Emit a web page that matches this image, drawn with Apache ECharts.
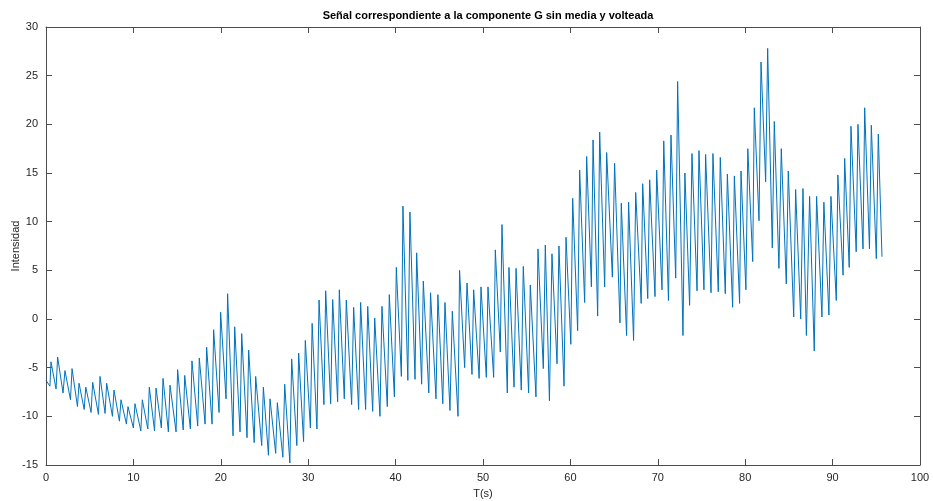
<!DOCTYPE html>
<html>
<head>
<meta charset="utf-8">
<script src="https://cdn.jsdelivr.net/npm/echarts@6/dist/echarts.min.js"></script>
<style>
html,body{margin:0;padding:0;background:#fff;}
#chart{width:933px;height:501px;}
</style>
</head>
<body>
<div id="chart"></div>
<script>
// Time stamps (s) of each turning point of the signal (troughs and peaks, in order)
const times = [
  0, 0.45, 0.57, 1.15, 1.33, 1.95, 2.17, 2.8, 2.98, 3.6, 3.78, 4.37, 4.55, 5.16, 5.34, 6.0, 6.18, 6.76, 6.94, 7.6, 7.78, 8.4, 8.58, 9.2, 9.38, 10.0, 10.18,
  10.85, 11.02, 11.65, 11.82, 12.42, 12.59, 13.2, 13.39, 14.0, 14.19, 14.88, 15.06, 15.7, 15.87, 16.52, 16.7, 17.36, 17.54, 18.2, 18.38, 19.0, 19.18, 19.8, 19.98,
  20.6, 20.78, 21.4, 21.59, 22.2, 22.39, 23.0, 23.19, 23.82, 23.99, 24.68, 24.87, 25.45, 25.63, 26.28, 26.47, 27.1, 27.31, 27.9, 28.11, 28.7, 28.91, 29.47, 29.67, 30.25, 30.45,
  31.0, 31.24, 31.8, 32.0, 32.57, 32.8, 33.37, 33.56, 34.13, 34.36, 34.97, 35.2, 35.77, 36.0, 36.57, 36.81, 37.38, 37.61, 38.21, 38.44, 39.05, 39.28, 39.86, 40.08,
  40.66, 40.84, 41.4, 41.64, 42.22, 42.41, 42.98, 43.17, 43.8, 44.0, 44.62, 44.84, 45.4, 45.65, 46.22, 46.49, 47.14, 47.32, 47.9, 48.17, 48.74, 48.93, 49.56, 49.77,
  50.38, 50.57, 51.22, 51.41, 51.98, 52.17, 52.78, 52.97, 53.55, 53.78, 54.38, 54.61, 55.22, 55.41, 56.06, 56.29, 56.9, 57.13, 57.6, 57.89, 58.47, 58.69, 59.27, 59.5,
  60.05, 60.26, 60.83, 61.06, 61.63, 61.86, 62.4, 62.59, 63.12, 63.35, 63.92, 64.15, 64.8, 65.06, 65.67, 65.82, 66.43, 66.66, 67.23, 67.47, 68.1, 68.27, 68.85, 69.07, 69.68, 69.87,
  70.48, 70.68, 71.22, 71.51, 72.05, 72.27, 72.88, 73.1, 73.64, 73.91, 74.49, 74.71, 75.28, 75.47, 76.09, 76.31, 76.92, 77.15, 77.72, 77.96, 78.56, 78.76, 79.36, 79.52,
  80.08, 80.3, 80.86, 81.04, 81.58, 81.81, 82.34, 82.57, 83.1, 83.33, 83.86, 84.13, 84.7, 84.93, 85.55, 85.77, 86.35, 86.61, 87.0, 87.37, 87.9, 88.17, 88.78, 89.0, 89.58, 89.81,
  90.42, 90.6, 91.2, 91.38, 91.9, 92.1, 92.7, 92.9, 93.48, 93.67, 94.22, 94.43, 95.0, 95.23, 95.65
];
// Signal value at each of those time stamps
const values = [
  -6.3, -6.9, -4.4, -7.2, -3.9, -7.6, -5.3, -8.3, -5.1, -9.0, -6.6, -9.3, -7.0, -9.6, -6.5, -9.8, -5.9, -9.7, -6.6, -10.0, -7.3, -10.5, -8.3, -10.8, -9.0, -11.2, -8.7,
  -11.5, -8.3, -11.3, -7.0, -11.5, -7.1, -11.2, -6.1, -11.6, -6.8, -11.6, -5.2, -11.4, -5.8, -11.3, -4.3, -11.0, -4.0, -10.8, -2.9, -10.8, -1.1, -9.6, 0.7,
  -8.2, 2.6, -12.0, -0.8, -11.6, -1.5, -12.2, -3.2, -12.7, -5.9, -13.0, -7.0, -14.0, -8.2, -13.8, -8.6, -14.2, -6.7, -14.8, -4.1, -13.0, -3.5, -12.6, -2.2, -11.2, -0.45,
  -11.3, 1.95, -8.8, 2.9, -8.7, 2.0, -8.5, 3.0, -8.2, 1.95, -8.8, 1.2, -9.3, 1.7, -9.3, 1.3, -9.5, 0.1, -10.0, 1.3, -9.0, 2.5, -8.0, 5.3,
  -5.9, 11.6, -6.3, 11.0, -6.2, 6.8, -6.7, 3.9, -7.6, 2.7, -8.2, 2.5, -8.7, 1.7, -9.4, 0.8, -10.0, 5.0, -5.0, 3.7, -5.7, 3.0, -6.1, 3.3,
  -6.0, 3.3, -6.0, 7.1, -3.4, 9.7, -7.6, 5.3, -7.0, 5.2, -7.3, 5.4, -7.6, 3.5, -8.0, 7.2, -5.1, 7.6, -8.4, 6.7, -4.6, 7.5, -6.9, 8.4,
  -2.6, 12.4, -1.2, 15.3, 1.7, 16.7, 3.3, 18.4, 0.3, 19.2, 3.3, 17.1, 4.3, 16.0, -0.4, 11.9, -1.7, 12.0, -2.2, 13.0, 1.6, 13.9, 2.1, 14.3, 2.3, 15.3,
  3.0, 18.3, 1.9, 18.9, 4.2, 24.4, -1.7, 15.0, 1.4, 17.0, 2.9, 17.3, 3.0, 16.9, 2.7, 17.0, 2.8, 16.6, 2.6, 14.9, 1.2, 14.7, 1.6, 15.2,
  3.0, 17.5, 5.9, 21.7, 10.1, 26.4, 14.1, 27.8, 7.3, 20.3, 5.2, 17.5, 3.6, 15.2, 0.2, 13.3, 0.0, 13.4, -1.7, 12.6, -3.3, 12.6, 0.2, 12.0, 0.4, 12.6,
  1.9, 14.8, 4.5, 16.5, 5.3, 19.8, 6.9, 20.0, 7.2, 21.7, 7.2, 19.9, 6.2, 19.0, 6.4
];
const xTicks = [0, 10, 20, 30, 40, 50, 60, 70, 80, 90, 100];
const yTicks = [-15, -10, -5, 0, 5, 10, 15, 20, 25, 30];

const chart = echarts.init(document.getElementById('chart'));
const data = times.map((t, i) => [t, values[i]]);
const axisCol = '#4d4d4d';
const font = 'Liberation Sans, Arial, sans-serif';
const lbl = {color: '#262626', fontSize: 11, fontFamily: font};
const base = {
  axisLine: {show: true, onZero: false, lineStyle: {color: axisCol, width: 1}},
  axisTick: {show: true, inside: true, length: 6, lineStyle: {color: axisCol}},
  splitLine: {show: false}
};
chart.setOption({
  animation: false,
  title: {
    text: 'Señal correspondiente a la componente G sin media y volteada',
    left: 483, top: 5, textAlign: 'center',
    textStyle: {fontSize: 11, fontWeight: 'bold', color: '#000', fontFamily: font}
  },
  grid: {left: 46, right: 13, top: 27, bottom: 36, containLabel: false, outerBoundsMode: 'none'},
  xAxis: [
    Object.assign({}, base, {
      type: 'value', min: xTicks[0], max: xTicks[xTicks.length - 1], interval: 10, position: 'bottom',
      name: 'T(s)', nameLocation: 'middle', nameGap: 23, nameMoveOverlap: false,
      nameTextStyle: {color: '#262626', fontSize: 11, fontFamily: font},
      axisLabel: Object.assign({margin: 7}, lbl)
    }),
    Object.assign({}, base, {
      type: 'value', min: xTicks[0], max: xTicks[xTicks.length - 1], interval: 10, position: 'top',
      axisLabel: {show: false}
    })
  ],
  yAxis: [
    Object.assign({}, base, {
      type: 'value', min: yTicks[0], max: yTicks[yTicks.length - 1], interval: 5, position: 'left',
      name: 'Intensidad', nameLocation: 'middle', nameGap: 25, nameRotate: 90, nameMoveOverlap: false,
      nameTextStyle: {color: '#262626', fontSize: 11, fontFamily: font},
      axisLabel: Object.assign({margin: 8}, lbl)
    }),
    Object.assign({}, base, {
      type: 'value', min: yTicks[0], max: yTicks[yTicks.length - 1], interval: 5, position: 'right',
      axisLabel: {show: false}
    })
  ],
  series: [{
    type: 'line',
    data: data,
    xAxisIndex: 0, yAxisIndex: 0,
    showSymbol: false,
    symbol: 'none',
    lineStyle: {color: '#0072BD', width: 1},
    clip: true
  }]
});
</script>
</body>
</html>
